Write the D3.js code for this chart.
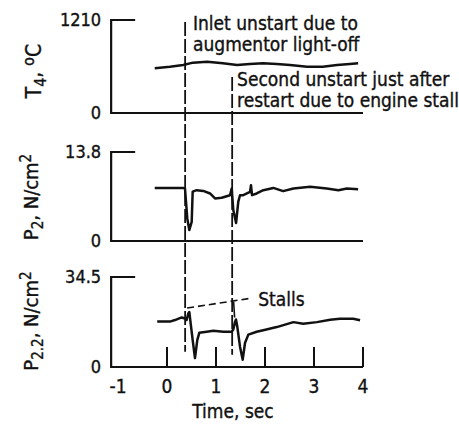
<!DOCTYPE html>
<html>
<head>
<meta charset="utf-8">
<script src="https://cdn.jsdelivr.net/npm/d3@7"></script>
<style>
    body { margin: 0; background: #fff; }
    svg { display: block; }
    text { font-family: "Liberation Sans Narrow", "DejaVu Sans Condensed", "Arial Narrow", sans-serif; fill: #111; stroke: #111; stroke-width: 0.35px; }
</style>
</head>
<body>
<svg id="chart" width="459" height="428"></svg>
<script>
// time axis (sec)
const timeTicks = [-1, 0, 1, 2, 3, 4];

// T4, deg C
const t4Times  = [-0.25, 0.06, 0.33, 0.53, 0.82, 1.14, 1.43, 1.69, 1.96, 2.24, 2.51, 2.86, 3.18, 3.47, 3.73, 3.9];
const t4Values = [583, 603, 625, 655, 668, 647, 625, 638, 647, 638, 625, 603, 603, 625, 638, 647];

// P2, N/cm2
const p2Times  = [-0.25, 0.33, 0.367, 0.414, 0.455, 0.504, 0.524, 0.606, 0.741, 0.878, 0.98, 1.116, 1.286, 1.32, 1.353, 1.41, 1.455, 1.49, 1.557, 1.694, 1.714, 1.735, 1.83, 1.965, 2.17, 2.37, 2.58, 2.92, 3.26, 3.5, 3.67, 3.9];
const p2Values = [8.23, 8.23, 8.14, 3.5, 1.7, 2.97, 7.66, 7.88, 7.76, 7.37, 6.6, 6.7, 7.1, 8.14, 4.79, 2.8, 6.1, 7.1, 7.11, 7.62, 8.65, 7.11, 7.37, 7.88, 8.23, 7.73, 8.14, 8.4, 8.14, 7.88, 8.14, 8.03];

// P2,2, N/cm2
const p22Times  = [-0.2, 0.06, 0.163, 0.3, 0.367, 0.4, 0.435, 0.455, 0.483, 0.524, 0.571, 0.618, 0.659, 0.81, 0.945, 1.149, 1.32, 1.353, 1.388, 1.408, 1.435, 1.49, 1.545, 1.592, 1.66, 1.83, 1.965, 2.24, 2.58, 2.78, 3.06, 3.33, 3.53, 3.8, 3.94];
const p22Values = [17.4, 17.4, 18.0, 19.0, 18.6, 18.0, 20.5, 21.1, 16.7, 10.3, 3.4, 10.3, 13.1, 13.5, 13.9, 13.5, 13.5, 14.4, 17.3, 18.2, 15.4, 7.8, 2.8, 9.2, 12.4, 13.5, 14.1, 15.3, 17.2, 16.6, 17.2, 18.1, 18.5, 18.5, 17.9];

// annotations
const unstartTimes  = [0.37, 1.33];
const unstartTopT4  = [1185, 470];   // top end, read on the T4 scale
const unstartBottom = [5.8, 4.7];    // bottom end, read on the P2,2 scale
const stallLeader   = [[0.41, 22.6], [1.73, 26.4]];
const stallTick     = [[1.36, 25.0], [1.38, 19.0]];

const svg = d3.select('#chart');

let x = d3.scaleLinear().domain([-1, 4]).range([118, 363]);
let xStart = -1.14;

let panels = [
    {max: 1210, maxLabel: '1210', range: [113, 20],  times: t4Times,  values: t4Values},
    {max: 13.8, maxLabel: '13.8', range: [241, 152], times: p2Times,  values: p2Values},
    {max: 34.5, maxLabel: '34.5', range: [367, 277], times: p22Times, values: p22Values}
];

panels.forEach(p => {
    p.y = d3.scaleLinear().domain([0, p.max]).range(p.range);
});

let line = (p) => d3.line()
    .x(d => x(d[0]))
    .y(d => p.y(d[1]))
    .curve(d3.curveLinear);

panels.forEach(p => {
    let g = svg.append('g');

    // y axis with top tick, and zero baseline
    g.append('path')
        .attr('d', `M ${x(-0.65)} ${p.y(p.max)} L ${x(xStart)} ${p.y(p.max)} L ${x(xStart)} ${p.y(0)} L ${x(4)} ${p.y(0)}`)
        .attr('fill', 'none')
        .attr('stroke', '#111')
        .attr('stroke-width', 2.2);

    g.append('text')
        .attr('x', x(xStart) - 10)
        .attr('y', p.y(p.max))
        .attr('dy', '0.36em')
        .attr('text-anchor', 'end')
        .attr('font-size', 18)
        .text(p.maxLabel);

    g.append('text')
        .attr('x', x(xStart) - 10)
        .attr('y', p.y(0))
        .attr('dy', '0.36em')
        .attr('text-anchor', 'end')
        .attr('font-size', 18)
        .text('0');

    g.append('path')
        .datum(p.times.map((t, i) => [t, p.values[i]]))
        .attr('d', line(p))
        .attr('fill', 'none')
        .attr('stroke', '#111')
        .attr('stroke-width', 2.5)
        .attr('stroke-linejoin', 'round');
});

// time ticks on the bottom panel
let bottomPanel = panels[2];
svg.append('g').selectAll('line.tick')
    .data(timeTicks.filter(t => t > -1))
    .enter()
    .append('line')
    .attr('x1', d => x(d)).attr('x2', d => x(d))
    .attr('y1', bottomPanel.y(0)).attr('y2', bottomPanel.y(0) - 20)
    .attr('stroke', '#111')
    .attr('stroke-width', 2);

svg.append('g').selectAll('text')
    .data(timeTicks)
    .enter()
    .append('text')
    .attr('x', d => x(d))
    .attr('y', bottomPanel.y(0) + 26)
    .attr('text-anchor', 'middle')
    .attr('font-size', 19)
    .text(d => d < 0 ? '-' + Math.abs(d) : d);

svg.append('text')
    .attr('x', 233)
    .attr('y', 418)
    .attr('text-anchor', 'middle')
    .attr('font-size', 19)
    .text('Time, sec');

// y titles
let yTitle = (cx, cy, size, parts) => {
    let t = svg.append('text')
        .attr('transform', `translate(${cx},${cy}) rotate(-90)`)
        .attr('text-anchor', 'middle')
        .attr('font-size', size);
    parts.forEach(([s, shift]) => {
        let span = t.append('tspan').text(s);
        if(shift){
            span.attr('font-size', size * 0.75).attr('baseline-shift', shift);
        }
    });
};
yTitle(41, 71,  21, [['T', 0], ['4', '-30%'], [', ', 0], ['o', '45%'], ['C', 0]]);
yTitle(38, 197, 20, [['P', 0], ['2', '-30%'], [', N/cm', 0], ['2', '45%']]);
yTitle(38, 321, 20, [['P', 0], ['2.2', '-30%'], [', N/cm', 0], ['2', '45%']]);

// unstart markers
let topPanel = panels[0];
svg.append('g').selectAll('line')
    .data(unstartTimes)
    .enter()
    .append('line')
    .attr('x1', d => x(d)).attr('x2', d => x(d))
    .attr('y1', (d, i) => topPanel.y(unstartTopT4[i]))
    .attr('y2', (d, i) => bottomPanel.y(unstartBottom[i]))
    .attr('stroke', '#111')
    .attr('stroke-width', 1.8)
    .attr('stroke-dasharray', '14,3');

// stall leaders
svg.append('path')
    .datum(stallLeader)
    .attr('d', line(bottomPanel))
    .attr('fill', 'none')
    .attr('stroke', '#111')
    .attr('stroke-width', 1.6)
    .attr('stroke-dasharray', '7,4');

svg.append('path')
    .datum(stallTick)
    .attr('d', line(bottomPanel))
    .attr('fill', 'none')
    .attr('stroke', '#111')
    .attr('stroke-width', 1.6);

svg.append('text')
    .attr('x', x(1.86))
    .attr('y', bottomPanel.y(23.3))
    .attr('font-size', 19)
    .text('Stalls');

// notes
let note = (t, v, lines) => {
    lines.forEach((s, i) => {
        svg.append('text')
            .attr('x', x(t))
            .attr('y', topPanel.y(v) + i * 21)
            .attr('font-size', 19)
            .text(s);
    });
};
note(0.53, 1080, ['Inlet unstart due to', 'augmentor light-off']);
note(1.43, 351, ['Second unstart just after', 'restart due to engine stall']);
</script>
</body>
</html>
